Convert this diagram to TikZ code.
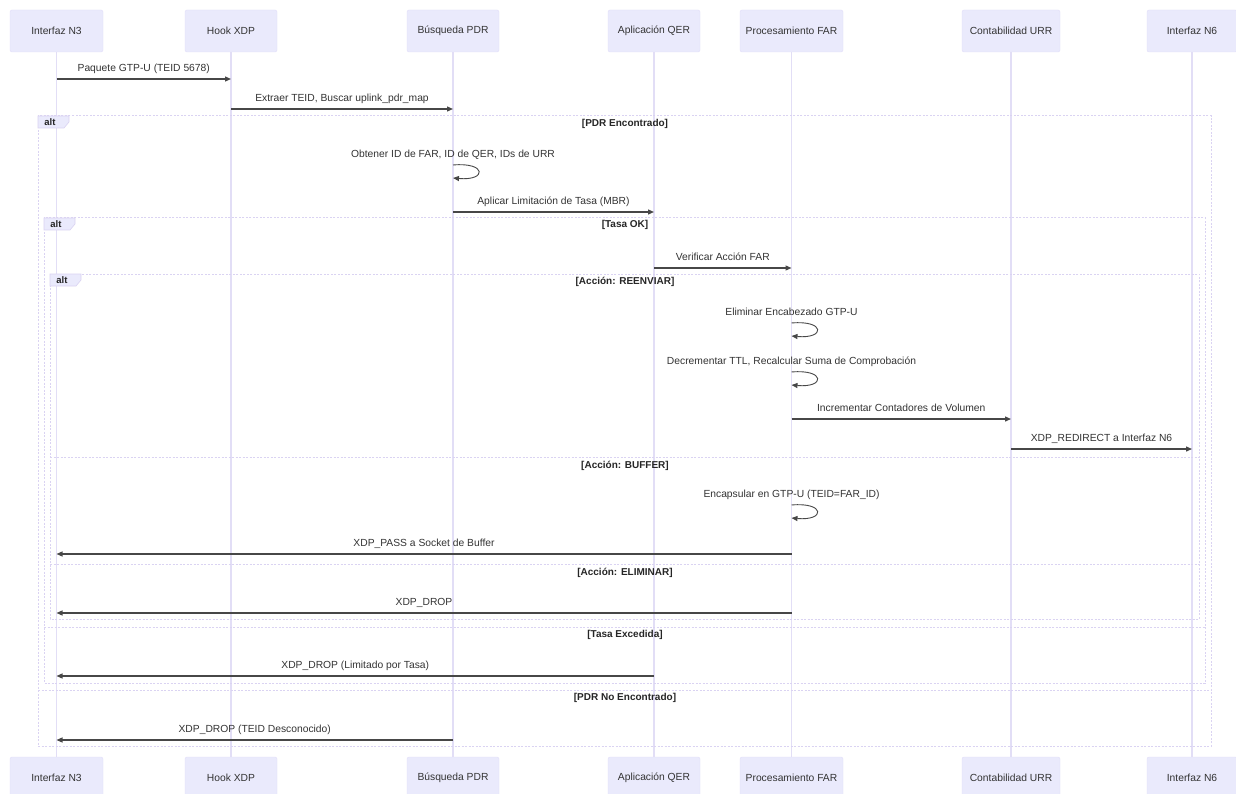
\documentclass[tikz,border=0pt]{standalone}
\usepackage{fontspec}
\setmainfont{Liberation Sans}
\usetikzlibrary{arrows.meta}
\definecolor{txt}{HTML}{333333}
\definecolor{actfill}{HTML}{EAEAFC}
\definecolor{actdraw}{HTML}{E2DEF8}
\definecolor{lifec}{HTML}{E2DEF6}
\definecolor{frm}{HTML}{DAD3F2}
\newcommand\msgline[5]{%
  \draw[msg] (#2 |- 0,#4) -- node[lbl] (#1) {#5} (#3 |- 0,#4);}
\newcommand\selfmsg[4]{%
  \node[lbl] (#1) at (#2 |- 0,#3) {#4};
  \draw[msg, line width=0.9pt] (#2 |- 0,#3) .. controls +(34,-3) and +(34,3) .. (#2 |- 0,#3+13);}
\begin{document}
\begin{tikzpicture}[x=1pt,y=-1pt, text=txt,
  base/.style={font=\fontsize{10.3}{12}\selectfont},
  actor/.style={base, rectangle, fill=actfill, draw=actdraw, rounded corners=2pt,
    minimum height=42, inner sep=0pt},
  lifeline/.style={draw=lifec, line width=1.5pt},
  msg/.style={draw=txt!90, line width=1.3pt, -{Triangle[length=6pt,width=5pt]}},
  lbl/.style={base, anchor=base, inner sep=0pt, yshift=7.5pt},
  frame/.style={draw=frm, line width=1pt, dash pattern=on 2pt off 1.5pt},
  tab/.style={draw=frm, fill=actfill, line width=0.6pt},
  sect/.style={font=\fontsize{10}{12}\selectfont\bfseries, text=black!85, inner sep=0pt},
  tabtxt/.style={font=\fontsize{9.5}{11}\selectfont\bfseries, text=black!85, inner sep=0pt}]
\fill[white] (0,0) rectangle (1236,794);
\useasboundingbox (0,0) rectangle (1236,794);
% actors top
\node[actor, minimum width=93] (tN3) at (56.5,31) {Interfaz N3};
\node[actor, minimum width=92] (tHook) at (231,31) {Hook XDP};
\node[actor, minimum width=92] (tPDR) at (453,31) {Búsqueda PDR};
\node[actor, minimum width=92] (tQER) at (654,31) {Aplicación QER};
\node[actor, minimum width=103] (tFAR) at (791.5,31) {Procesamiento FAR};
\node[actor, minimum width=98] (tURR) at (1011,31) {Contabilidad URR};
\node[actor, minimum width=90] (tN6) at (1192,31) {Interfaz N6};
% actors bottom
\node[actor, minimum width=93] (bN3) at (56.5,778) {Interfaz N3};
\node[actor, minimum width=92] (bHook) at (231,778) {Hook XDP};
\node[actor, minimum width=92] (bPDR) at (453,778) {Búsqueda PDR};
\node[actor, minimum width=92] (bQER) at (654,778) {Aplicación QER};
\node[actor, minimum width=103] (bFAR) at (791.5,778) {Procesamiento FAR};
\node[actor, minimum width=98] (bURR) at (1011,778) {Contabilidad URR};
\node[actor, minimum width=90] (bN6) at (1192,778) {Interfaz N6};
% lifelines
\foreach \a in {N3,Hook,PDR,QER,FAR,URR,N6}
  \draw[lifeline] (t\a.south) -- (b\a.north);
% frames
\draw[frame] (38,116) rectangle (1211,746);
\draw[frame] (38,690) -- (1211,690);
\draw[frame] (44,218) rectangle (1205,683);
\draw[frame] (44,627) -- (1205,627);
\draw[frame] (50,274) rectangle (1199,619);
\draw[frame] (50,457) -- (1199,457);
\draw[frame] (50,564) -- (1199,564);
% tabs
\draw[tab] (38,116) -- (69,116) -- (69,122) -- (64,128) -- (38,128) -- cycle;
\node[tabtxt] (alt1) at (50,122) {alt};
\draw[tab] (44,218) -- (75,218) -- (75,224) -- (70,230) -- (44,230) -- cycle;
\node[tabtxt] (alt2) at (56,224) {alt};
\draw[tab] (50,274) -- (81,274) -- (81,280) -- (76,286) -- (50,286) -- cycle;
\node[tabtxt] (alt3) at (62,280) {alt};
% section labels
\node[sect] (s1) at (625,124) {[PDR Encontrado]};
\node[sect] (s2) at (625,698) {[PDR No Encontrado]};
\node[sect] (s3) at (625,225) {[Tasa OK]};
\node[sect] (s4) at (625,635) {[Tasa Excedida]};
\node[sect] (s5) at (625,282) {[Acción: REENVIAR]};
\node[sect] (s6) at (625,466) {[Acción: BUFFER]};
\node[sect] (s7) at (625,573) {[Acción: ELIMINAR]};
% messages
\msgline{m1}{tN3}{tHook}{79}{Paquete GTP-U (TEID 5678)}
\msgline{m2}{tHook}{tPDR}{109}{Extraer TEID, Buscar uplink\_pdr\_map}
\selfmsg{m3}{tPDR}{165}{Obtener ID de FAR, ID de QER, IDs de URR}
\msgline{m4}{tPDR}{tQER}{212}{Aplicar Limitación de Tasa (MBR)}
\msgline{m5}{tQER}{tFAR}{268}{Verificar Acción FAR}
\selfmsg{m6}{tFAR}{323}{Eliminar Encabezado GTP-U}
\selfmsg{m7}{tFAR}{372}{Decrementar TTL, Recalcular Suma de Comprobación}
\msgline{m8}{tFAR}{tURR}{419}{Incrementar Contadores de Volumen}
\msgline{m9}{tURR}{tN6}{449}{XDP\_REDIRECT a Interfaz N6}
\selfmsg{m10}{tFAR}{505}{Encapsular en GTP-U (TEID=FAR\_ID)}
\msgline{m11}{tFAR}{tN3}{554}{XDP\_PASS a Socket de Buffer}
\msgline{m12}{tFAR}{tN3}{613}{XDP\_DROP}
\msgline{m13}{tQER}{tN3}{676}{XDP\_DROP (Limitado por Tasa)}
\msgline{m14}{tPDR}{tN3}{740}{XDP\_DROP (TEID Desconocido)}
\end{tikzpicture}
\end{document}
